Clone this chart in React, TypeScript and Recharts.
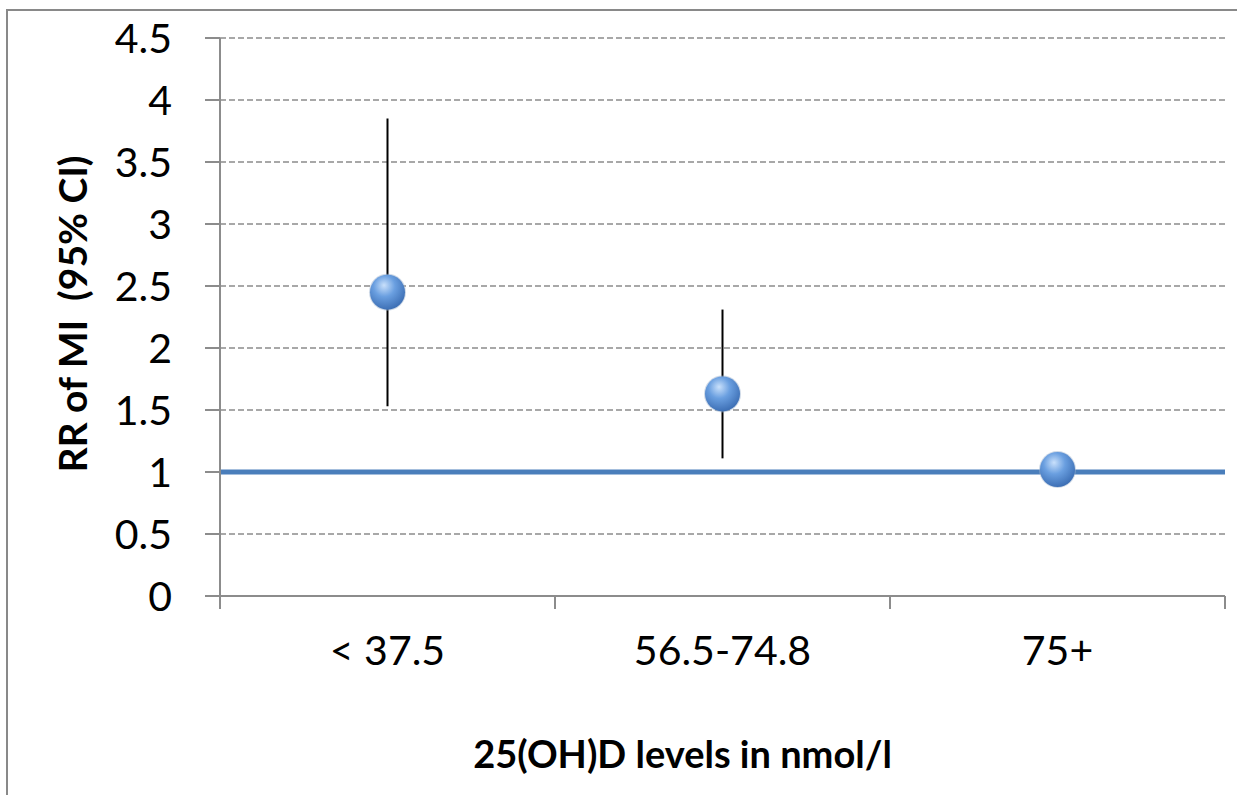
import { CartesianGrid, ErrorBar, ReferenceLine, Scatter, ScatterChart, XAxis, YAxis } from 'recharts';

const categories = ['< 37.5', '56.5-74.8', '75+'];
const rr = [2.45, 1.63, 1.02];
const ciLow = [1.53, 1.11, 1.02];
const ciHigh = [3.85, 2.31, 1.02];
const yTicks = [0, 0.5, 1, 1.5, 2, 2.5, 3, 3.5, 4, 4.5];
const xTicks = [0, 0.5, 1, 1.5, 2, 2.5, 3];

const data = categories.map((name, i) => ({
  name,
  x: i + 0.5,
  y: rr[i],
  err: [rr[i] - ciLow[i], ciHigh[i] - rr[i]],
}));

const FONT = 'Lato, "Open Sans", sans-serif';
const AXIS = '#8c8c8c';

const XTick = (props: any) => {
  const { x, y, payload } = props;
  const v = payload.value;
  if (Number.isInteger(v)) {
    return <line x1={x} x2={x} y1={y} y2={y + 13} stroke={AXIS} strokeWidth={2} />;
  }
  return (
    <text x={x} y={y + 69} textAnchor='middle' fontSize={41} fontFamily={FONT} fill='#000'>
      {categories[Math.floor(v)]}
    </text>
  );
};

const Ball = (props: any) => {
  const { cx, cy } = props;
  if (cx == null || cy == null) return null;
  return (
    <g>
      <circle cx={cx} cy={cy} r={18.5} fill='#9db3cf' opacity={0.5} />
      <circle cx={cx} cy={cy} r={17.5} fill='url(#ball)' />
    </g>
  );
};

export default function App() {
  return (
    <div style={{ position: 'absolute', left: 0, top: 0, width: 1237, height: 795, overflow: 'hidden' }}>
      <div
        style={{
          position: 'absolute',
          left: 6,
          top: 9,
          width: 1240,
          height: 800,
          borderLeft: '2px solid #898989',
          borderTop: '2px solid #898989',
        }}
      />
      <div style={{ position: 'absolute', left: 0, top: 0 }}>
        <ScatterChart width={1237} height={795} margin={{ top: 38, right: 12, bottom: 0, left: 0 }}>
          <defs>
            <radialGradient id='ball' cx='42%' cy='35%' r='68%' fx='40%' fy='30%'>
              <stop offset='0%' stopColor='#c9e0fb' />
              <stop offset='45%' stopColor='#6a9fe0' />
              <stop offset='100%' stopColor='#3a6cb2' />
            </radialGradient>
          </defs>
          <CartesianGrid vertical={false} stroke={AXIS} strokeWidth={1.5} strokeDasharray='6 3' />
          <XAxis
            type='number'
            dataKey='x'
            domain={[0, 3]}
            ticks={xTicks}
            interval={0}
            height={199}
            tickLine={false}
            tickSize={0}
            tickMargin={0}
            axisLine={{ stroke: AXIS, strokeWidth: 2 }}
            tick={<XTick />}
            label={{
              content: (p: any) => (
                <text
                  x={p.viewBox.x + p.viewBox.width / 2 - 40}
                  y={p.viewBox.y + p.viewBox.height - 27}
                  textAnchor='middle'
                  fontSize={38}
                  fontWeight='bold'
                  fontFamily={FONT}
                  fill='#000'
                >
                  25(OH)D levels in nmol/l
                </text>
              ),
            }}
          />
          <YAxis
            type='number'
            dataKey='y'
            domain={[0, 4.5]}
            ticks={yTicks}
            interval={0}
            width={220}
            tickSize={15}
            tickMargin={33}
            axisLine={{ stroke: AXIS, strokeWidth: 2 }}
            tickLine={{ stroke: AXIS, strokeWidth: 2 }}
            tick={{ fontSize: 41, fontFamily: FONT, fill: '#000' }}
            label={{
              content: (p: any) => {
                const cx = 87;
                const cy = p.viewBox.y + p.viewBox.height / 2 - 3;
                return (
                  <text
                    x={cx}
                    y={cy}
                    transform={`rotate(-90, ${cx}, ${cy})`}
                    textAnchor='middle'
                    fontSize={39}
                    fontWeight='bold'
                    fontFamily={FONT}
                    fill='#000'
                    style={{ whiteSpace: 'pre' }}
                  >
                    {'RR of MI  (95% CI)'}
                  </text>
                );
              },
            }}
          />
          <ReferenceLine y={1} stroke='#4a7ebb' strokeWidth={5} />
          <Scatter data={data} shape={<Ball />} isAnimationActive={false}>
            <ErrorBar dataKey='err' direction='y' width={0} stroke='#000' strokeWidth={2} isAnimationActive={false} />
          </Scatter>
        </ScatterChart>
      </div>
    </div>
  );
}
